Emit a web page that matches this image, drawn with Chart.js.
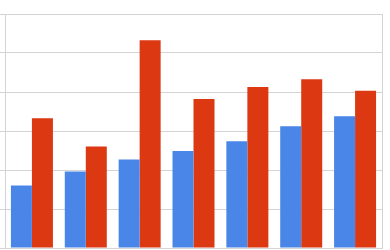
<!DOCTYPE html>
<html>
<head>
<meta charset="utf-8">
<script src="https://cdn.jsdelivr.net/npm/chart.js@4/dist/chart.umd.min.js"></script>
<style>
  html, body { margin: 0; padding: 0; background: #fff; }
  #wrap { width: 390px; height: 250px; }
</style>
</head>
<body>
<div id="wrap"><canvas id="barChart"></canvas></div>
<script>
// data (no axis labels are shown)
const categories = ['1', '2', '3', '4', '5', '6', '7'];
const blueValues = [16, 19.6, 22.7, 24.9, 27.4, 31.2, 33.8];
const redValues = [33.3, 26, 53.3, 38.2, 41.3, 43.3, 40.3];
const yMax = 60;
const yStep = 10;

const gridColor = '#d4d4d4';

new Chart(document.getElementById('barChart'), {
    type: 'bar',
    data: {
        labels: categories,
        datasets: [
            { label: 'A', data: blueValues, backgroundColor: '#4a86e8', borderWidth: 0 },
            { label: 'B', data: redValues, backgroundColor: '#dc3912', borderWidth: 0 }
        ]
    },
    options: {
        responsive: true,
        maintainAspectRatio: false,
        animation: false,
        layout: { padding: { top: 14, right: 8, bottom: 2, left: 0 } },
        datasets: { bar: { categoryPercentage: 0.78, barPercentage: 1 } },
        plugins: { legend: { display: false }, tooltip: { enabled: false } },
        scales: {
            x: { display: false },
            y: {
                min: 0, max: yMax,
                ticks: { display: false, stepSize: yStep },
                grid: { color: gridColor, lineWidth: 1, tickLength: 5 },
                border: { display: true, color: gridColor, width: 1 }
            },
            y2: {
                position: 'right',
                min: 0, max: yMax,
                ticks: { display: false },
                grid: { drawOnChartArea: false, drawTicks: false },
                border: { display: true, color: gridColor, width: 1 }
            }
        }
    }
});
</script>
</body>
</html>
